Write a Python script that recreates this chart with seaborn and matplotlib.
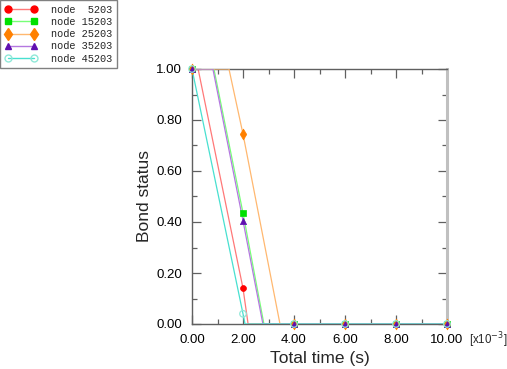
import matplotlib
matplotlib.use("Agg")
import matplotlib.pyplot as plt
from matplotlib.lines import Line2D
from matplotlib.ticker import MultipleLocator, FormatStrFormatter
import seaborn as sns
import pandas as pd

# ---- data (time in units of 1e-3 s) ----
labels = ["node  5203", "node 15203", "node 25203", "node 35203", "node 45203"]

t_5203 = [0.0, 0.24, 2.0, 2.2, 4.0, 6.0, 8.0, 10.0]
y_5203 = [1.0, 1.0, 0.14, 0.0, 0.0, 0.0, 0.0, 0.0]
t_15203 = [0.0, 0.86, 2.0, 2.82, 4.0, 6.0, 8.0, 10.0]
y_15203 = [1.0, 1.0, 0.435, 0.0, 0.0, 0.0, 0.0, 0.0]
t_25203 = [0.0, 1.45, 2.0, 3.45, 4.0, 6.0, 8.0, 10.0]
y_25203 = [1.0, 1.0, 0.745, 0.0, 0.0, 0.0, 0.0, 0.0]
t_35203 = [0.0, 0.82, 2.0, 2.78, 4.0, 6.0, 8.0, 10.0]
y_35203 = [1.0, 1.0, 0.405, 0.0, 0.0, 0.0, 0.0, 0.0]
t_45203 = [0.0, 2.0, 2.08, 4.0, 6.0, 8.0, 10.0]
y_45203 = [1.0, 0.04, 0.0, 0.0, 0.0, 0.0, 0.0]

marker_t = [0.0, 2.0, 4.0, 6.0, 8.0, 10.0]
mk_5203 = [1.0, 0.14, 0.0, 0.0, 0.0, 0.0]
mk_15203 = [1.0, 0.435, 0.0, 0.0, 0.0, 0.0]
mk_25203 = [1.0, 0.745, 0.0, 0.0, 0.0, 0.0]
mk_35203 = [1.0, 0.405, 0.0, 0.0, 0.0, 0.0]
mk_45203 = [1.0, 0.04, 0.0, 0.0, 0.0, 0.0]

line_t = [t_5203, t_15203, t_25203, t_35203, t_45203]
line_y = [y_5203, y_15203, y_25203, y_35203, y_45203]
mark_y = [mk_5203, mk_15203, mk_25203, mk_35203, mk_45203]

line_colors = ["#ff7878", "#78ff78", "#ffb870", "#b478e0", "#48e0d0"]
marker_colors = ["#ff0000", "#00e000", "#ff8000", "#6010b0", "#90e8d8"]
markers = ["o", "s", "d", "^", "o"]
marker_sizes = [18, 20, 30, 20, 22]

sns.set_theme(style="white")
plt.rcParams["font.family"] = ["Liberation Sans", "DejaVu Sans"]

fig = plt.figure(figsize=(5.07, 3.69), dpi=100)
ax = fig.add_axes([192 / 507, 1 - 324 / 369, (447 - 192) / 507, (324 - 69) / 369])

for i in range(5):
    df = pd.DataFrame({"t": line_t[i], "y": line_y[i]})
    sns.lineplot(data=df, x="t", y="y", ax=ax, color=line_colors[i],
                 linewidth=0.9, estimator=None, sort=False, zorder=2 + i)
for i in range(5):
    dm = pd.DataFrame({"t": marker_t, "y": mark_y[i]})
    if i == 4:
        sns.scatterplot(data=dm, x="t", y="y", ax=ax, marker="o",
                        s=marker_sizes[i], facecolors="none",
                        edgecolor=marker_colors[i], linewidth=0.9,
                        zorder=10 + i, clip_on=False)
    else:
        sns.scatterplot(data=dm, x="t", y="y", ax=ax, marker=markers[i],
                        s=marker_sizes[i], color=marker_colors[i],
                        edgecolor=marker_colors[i], linewidth=0.5,
                        zorder=10 + i, clip_on=False)

ax.set_xlim(0, 10)
ax.set_ylim(0, 1)
ax.xaxis.set_major_locator(MultipleLocator(2))
ax.xaxis.set_minor_locator(MultipleLocator(1))
ax.yaxis.set_major_locator(MultipleLocator(0.2))
ax.yaxis.set_minor_locator(MultipleLocator(0.1))
ax.xaxis.set_major_formatter(FormatStrFormatter("%.2f"))
ax.yaxis.set_major_formatter(FormatStrFormatter("%.2f"))
ax.tick_params(which="both", direction="in", top=True, right=True,
               bottom=True, left=True, colors="#606060", labelcolor="black",
               labelsize=9.5, width=0.9)
ax.tick_params(which="major", length=6.5, pad=7)
ax.tick_params(which="minor", length=3.6)

for side in ["left", "bottom", "top"]:
    ax.spines[side].set_color("#606060")
    ax.spines[side].set_linewidth(1.0)
ax.spines["right"].set_color("#c0c0c0")
ax.spines["right"].set_linewidth(2.2)

ax.set_xlabel("Total time (s)", fontsize=12.5, labelpad=4)
ax.set_ylabel("Bond status", fontsize=12.5, labelpad=3)
ax.text((507 - 192) / 255, -0.062, "[x10$^{-3}$]", transform=ax.transAxes,
        fontsize=8.3, ha="right", va="center")

handles = [Line2D([0], [0], color=line_colors[i], linewidth=1.0,
                  marker=markers[i], markersize=5 if markers[i] != "d" else 6.5,
                  markerfacecolor=("none" if i == 4 else marker_colors[i]),
                  markeredgecolor=marker_colors[i])
           for i in range(5)]
leg = fig.legend(handles, labels, loc="upper left", bbox_to_anchor=(0.0, 1.0),
                 prop={"family": "Liberation Mono", "size": 7.4},
                 frameon=True, fancybox=False, edgecolor="#808080",
                 framealpha=1, handlelength=3.2, handletextpad=1.3,
                 numpoints=2, labelspacing=0.22, borderpad=0.45,
                 borderaxespad=0.0)
leg.get_frame().set_linewidth(1.0)

fig.savefig("out.png", dpi=100)
